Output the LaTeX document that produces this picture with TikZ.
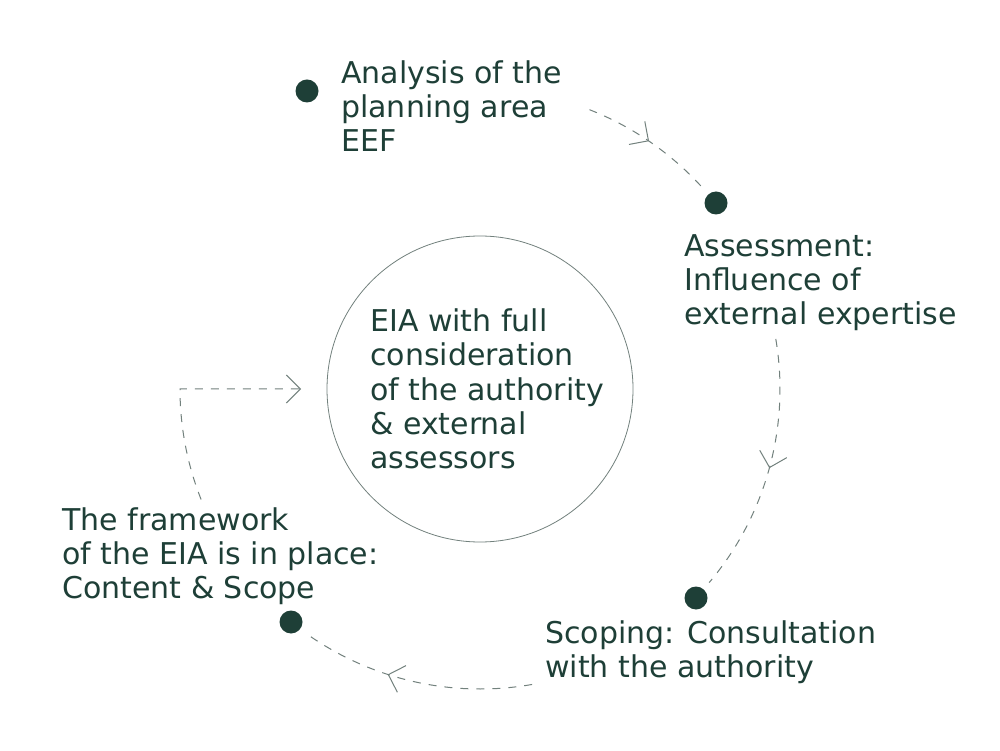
\documentclass[tikz,border=0pt]{standalone}
\usepackage{fontspec}
\setmainfont{DejaVu Sans}
\usetikzlibrary{arrows.meta,decorations.markings,calc}
\definecolor{ink}{HTML}{1E3F37}
\definecolor{wire}{HTML}{72817D}
\begin{document}
\begin{tikzpicture}[x=1pt,y=1pt,
  dot/.style={circle,fill=ink,inner sep=0pt,minimum size=23pt},
  lbl/.style={font=\fontsize{30}{34}\selectfont,text=ink,align=left,inner sep=0pt,anchor=base west},
  flow/.style={wire,line width=1pt,dash pattern=on 8pt off 8pt},
  vtip/.style={-{Straight Barb[length=14pt,width=28pt]}},
  midarrow/.style={postaction={decorate},decoration={markings,mark=at position #1 with {\arrow{Straight Barb[length=14pt,width=28pt]}}}}
]
\fill[white] (0,0) rectangle (1000,750);
\useasboundingbox (0,0) rectangle (1000,750);

\node[circle,draw=wire,line width=0.8pt,minimum size=306pt,inner sep=0pt] (hub) at (480,361) {};
\node[lbl] (hubtext) at (370,282) {EIA with full\\consideration\\of the authority\\\& external\\assessors};

\node[dot] (d1) at (307,659) {};
\node[dot] (d2) at (716,547) {};
\node[dot] (d3) at (696,152) {};
\node[dot] (d4) at (291,128) {};

\node[lbl] (t1) at (341,598) {Analysis of the\\planning area\\EEF};
\node[lbl] (t2) at (684,425) {Assessment:\\Influence of\\external expertise};
\node[lbl] (t3) at (545,73) {Scoping: Consultation\\with the authority};
\node[lbl] (t4) at (62,152) {The framework\\of the EIA is in place:\\Content \& Scope};

\coordinate (a1) at ($(hub.center)+(68.6:300)$);
\coordinate (a2) at ($(hub.center)+(9.6:300)$);
\coordinate (a3) at ($(hub.center)+(-80:300)$);
\coordinate (a4) at ($(hub.center)+(201.6:300)$);
\coordinate (e4) at (301,361);

\draw[flow,midarrow=0.485] (a1) arc[start angle=68.6,end angle=42,radius=300];
\draw[flow,midarrow=0.5] (a2) arc[start angle=9.6,end angle=-40.2,radius=300];
\draw[flow,midarrow=0.615] (a3) arc[start angle=-80,end angle=-125.4,radius=300];
\draw[flow,vtip] (a4) arc[start angle=201.6,end angle=180,radius=300] -- (e4);
\end{tikzpicture}
\end{document}
